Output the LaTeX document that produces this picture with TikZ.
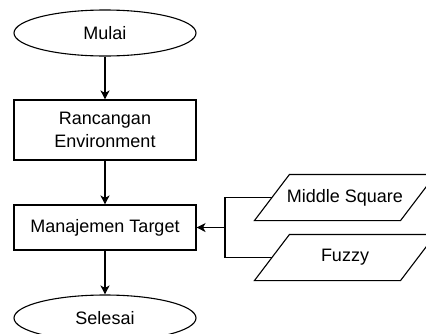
\documentclass[tikz,border=0pt]{standalone}
\usepackage{fontspec}
\setmainfont{Liberation Sans}
\usetikzlibrary{shapes.geometric,arrows.meta,positioning}

\begin{document}
\begin{tikzpicture}[x=1pt,y=-1pt,line width=1.1pt,
	terminal/.style={draw,ellipse,minimum width=182pt,minimum height=46pt,inner sep=0pt},
	process/.style={draw,rectangle,minimum width=182pt,inner sep=0pt,align=center},
	datain/.style={rectangle,minimum width=145pt,minimum height=45pt,inner sep=0pt},
	flow/.style={-{Stealth[length=9pt,width=9pt,inset=2.5pt]}},
	every node/.style={font=\fontsize{18}{23}\selectfont}]
	\useasboundingbox (0,0) rectangle (426,333);

	\node[terminal] (mulai) at (105,33) {Mulai};
	\node[process,minimum height=60pt] (rancang) at (105,130) {Rancangan\\Environment};
	\node[process,minimum height=45pt] (target) at (105,227.5) {Manajemen Target};
	\node[terminal] (selesai) at (105,318) {Selesai};

	\node[datain] (midsq) at (345,197.5) {Middle Square};
	\node[datain] (fuzzy) at (345,257.5) {Fuzzy};
	\foreach \n in {midsq,fuzzy}
		\draw ([xshift=17.5pt]\n.north west) -- ([xshift=17.5pt]\n.north east)
			-- ([xshift=-17.5pt]\n.south east) -- ([xshift=-17.5pt]\n.south west) -- cycle;
	\coordinate (gabung) at (225,227.5);

	\draw[flow] (mulai) -- (rancang);
	\draw[flow] (rancang) -- (target);
	\draw[flow] (target) -- (selesai);

	\draw (midsq.west) -| (gabung);
	\draw (fuzzy.west) -| (gabung);
	\draw[flow] (gabung) -- (target.east);
\end{tikzpicture}
\end{document}
